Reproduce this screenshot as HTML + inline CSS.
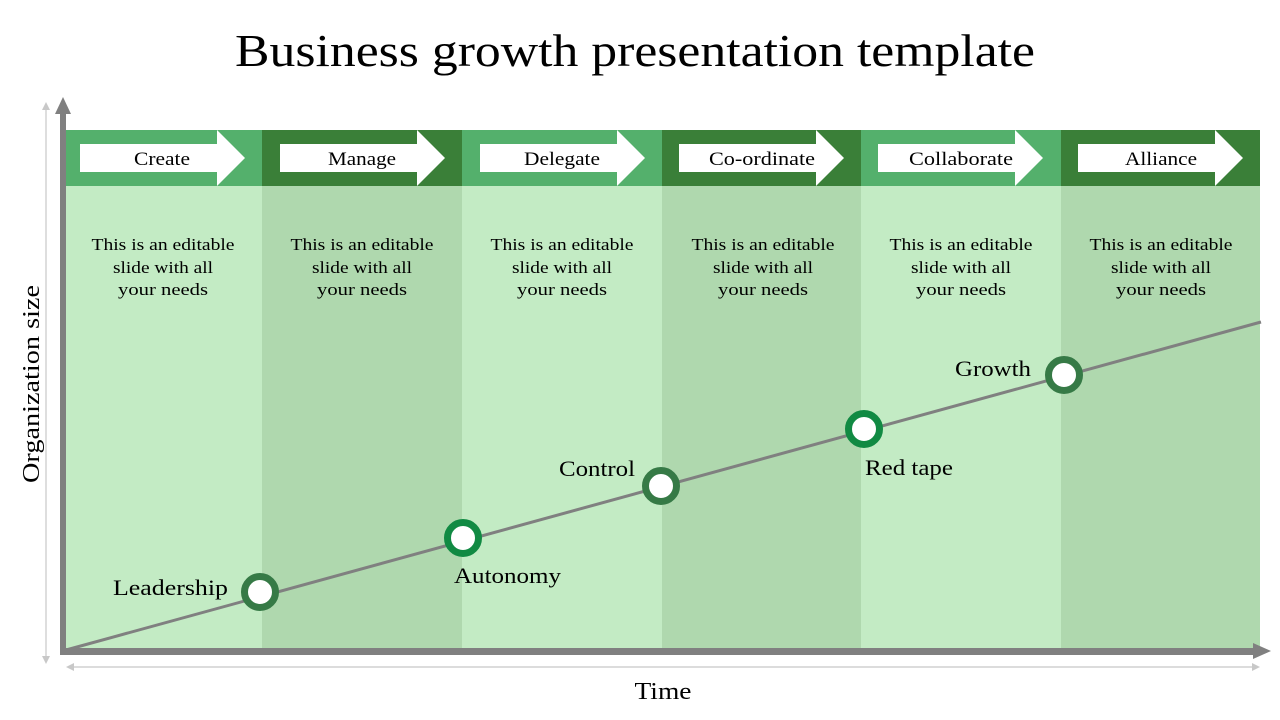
<!DOCTYPE html>
<html><head><meta charset="utf-8"><style>
html,body{margin:0;padding:0;background:#fff;}
svg{display:block;font-family:"Liberation Serif",serif;}
</style></head><body>
<svg width="1280" height="720" viewBox="0 0 1280 720" xmlns="http://www.w3.org/2000/svg">
<text x="635" y="66" font-size="46" text-anchor="middle" fill="#000" textLength="800" lengthAdjust="spacingAndGlyphs">Business growth presentation template</text>
<rect x="66" y="186" width="196" height="462" fill="#c3ebc4"/>
<rect x="262" y="186" width="200" height="462" fill="#afd8ae"/>
<rect x="462" y="186" width="200" height="462" fill="#c3ebc4"/>
<rect x="662" y="186" width="199" height="462" fill="#afd8ae"/>
<rect x="861" y="186" width="200" height="462" fill="#c3ebc4"/>
<rect x="1061" y="186" width="199" height="462" fill="#afd8ae"/>
<rect x="66" y="130" width="196" height="56" fill="#54b06c"/>
<rect x="262" y="130" width="200" height="56" fill="#3a7f38"/>
<rect x="462" y="130" width="200" height="56" fill="#54b06c"/>
<rect x="662" y="130" width="199" height="56" fill="#3a7f38"/>
<rect x="861" y="130" width="200" height="56" fill="#54b06c"/>
<rect x="1061" y="130" width="199" height="56" fill="#3a7f38"/>
<g fill="#fff">
<polygon points="80,144 217,144 217,130 245,158 217,186 217,172 80,172"/>
<polygon points="280,144 417,144 417,130 445,158 417,186 417,172 280,172"/>
<polygon points="480,144 617,144 617,130 645,158 617,186 617,172 480,172"/>
<polygon points="679,144 816,144 816,130 844,158 816,186 816,172 679,172"/>
<polygon points="878,144 1015,144 1015,130 1043,158 1015,186 1015,172 878,172"/>
<polygon points="1078,144 1215,144 1215,130 1243,158 1215,186 1215,172 1078,172"/>
</g>
<g font-size="19" fill="#000" text-anchor="middle" lengthAdjust="spacingAndGlyphs">
<text x="162" y="165" textLength="56" lengthAdjust="spacingAndGlyphs">Create</text>
<text x="362" y="165" textLength="68" lengthAdjust="spacingAndGlyphs">Manage</text>
<text x="562" y="165" textLength="76" lengthAdjust="spacingAndGlyphs">Delegate</text>
<text x="762" y="165" textLength="106" lengthAdjust="spacingAndGlyphs">Co-ordinate</text>
<text x="961" y="165" textLength="104" lengthAdjust="spacingAndGlyphs">Collaborate</text>
<text x="1161" y="165" textLength="72" lengthAdjust="spacingAndGlyphs">Alliance</text>
</g>
<g font-size="17" fill="#000" text-anchor="middle">
<text x="163" y="250" textLength="143" lengthAdjust="spacingAndGlyphs">This is an editable</text><text x="163" y="273" textLength="100" lengthAdjust="spacingAndGlyphs">slide with all</text><text x="163" y="295" textLength="90" lengthAdjust="spacingAndGlyphs">your needs</text>
<text x="362" y="250" textLength="143" lengthAdjust="spacingAndGlyphs">This is an editable</text><text x="362" y="273" textLength="100" lengthAdjust="spacingAndGlyphs">slide with all</text><text x="362" y="295" textLength="90" lengthAdjust="spacingAndGlyphs">your needs</text>
<text x="562" y="250" textLength="143" lengthAdjust="spacingAndGlyphs">This is an editable</text><text x="562" y="273" textLength="100" lengthAdjust="spacingAndGlyphs">slide with all</text><text x="562" y="295" textLength="90" lengthAdjust="spacingAndGlyphs">your needs</text>
<text x="763" y="250" textLength="143" lengthAdjust="spacingAndGlyphs">This is an editable</text><text x="763" y="273" textLength="100" lengthAdjust="spacingAndGlyphs">slide with all</text><text x="763" y="295" textLength="90" lengthAdjust="spacingAndGlyphs">your needs</text>
<text x="961" y="250" textLength="143" lengthAdjust="spacingAndGlyphs">This is an editable</text><text x="961" y="273" textLength="100" lengthAdjust="spacingAndGlyphs">slide with all</text><text x="961" y="295" textLength="90" lengthAdjust="spacingAndGlyphs">your needs</text>
<text x="1161" y="250" textLength="143" lengthAdjust="spacingAndGlyphs">This is an editable</text><text x="1161" y="273" textLength="100" lengthAdjust="spacingAndGlyphs">slide with all</text><text x="1161" y="295" textLength="90" lengthAdjust="spacingAndGlyphs">your needs</text>
</g>
<line x1="66" y1="650" x2="1261" y2="322" stroke="#808080" stroke-width="3"/>
<g stroke-width="7" fill="#fff">
<circle cx="260" cy="592" r="15.5" stroke="#367a46"/>
<circle cx="463" cy="538" r="15.5" stroke="#118a43"/>
<circle cx="661" cy="486" r="15.5" stroke="#367a46"/>
<circle cx="864" cy="429" r="15.5" stroke="#118a43"/>
<circle cx="1064" cy="375" r="15.5" stroke="#367a46"/>
</g>
<g font-size="22" fill="#000">
<text x="113" y="595" textLength="115" lengthAdjust="spacingAndGlyphs">Leadership</text>
<text x="454" y="583" textLength="107" lengthAdjust="spacingAndGlyphs">Autonomy</text>
<text x="559" y="476" textLength="76" lengthAdjust="spacingAndGlyphs">Control</text>
<text x="865" y="475" textLength="88" lengthAdjust="spacingAndGlyphs">Red tape</text>
<text x="955" y="376" textLength="76" lengthAdjust="spacingAndGlyphs">Growth</text>
</g>
<rect x="60" y="112" width="6" height="542" fill="#808080"/>
<polygon points="55,114 63,97 71,114" fill="#808080"/>
<rect x="60" y="648" width="1194" height="7" fill="#808080"/>
<polygon points="1253,643 1271,651 1253,659" fill="#808080"/>
<line x1="46" y1="108" x2="46" y2="658" stroke="#c8c8c8" stroke-width="1.2"/>
<polygon points="42,110 46,102 50,110" fill="#c8c8c8"/>
<polygon points="42,656 46,664 50,656" fill="#c8c8c8"/>
<line x1="72" y1="667" x2="1254" y2="667" stroke="#c8c8c8" stroke-width="1.2"/>
<polygon points="74,663 66,667 74,671" fill="#c8c8c8"/>
<polygon points="1252,663 1260,667 1252,671" fill="#c8c8c8"/>
<text x="663" y="699" font-size="24" text-anchor="middle" fill="#000" textLength="57" lengthAdjust="spacingAndGlyphs">Time</text>
<text transform="translate(39,384) rotate(-90)" font-size="24" text-anchor="middle" fill="#000" textLength="198" lengthAdjust="spacingAndGlyphs">Organization size</text>
</svg>
</body></html>
